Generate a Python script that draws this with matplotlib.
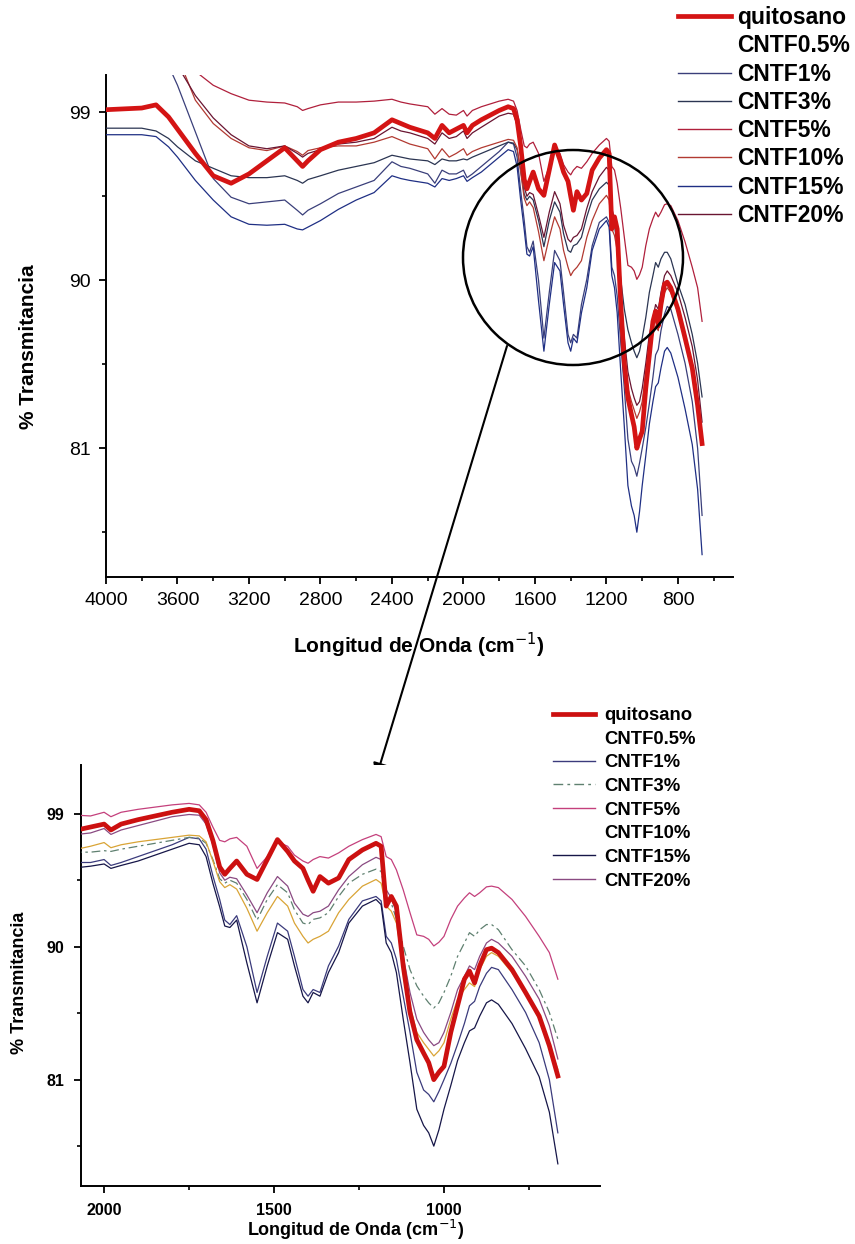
import matplotlib.pyplot as plt
from matplotlib.lines import Line2D
from matplotlib.patches import Ellipse
from matplotlib.ticker import FixedLocator, MultipleLocator

plt.rcParams['font.family'] = ['Liberation Sans', 'DejaVu Sans']

# FTIR spectra (cm-1 vs % transmittance)
wavenumber = [4000, 3800, 3720, 3650, 3600, 3500, 3400, 3300, 3200, 3100,
              3000, 2930, 2900, 2870, 2800, 2700, 2600, 2500, 2400, 2350,
              2300, 2200, 2160, 2120, 2080, 2040, 2000,
              1980, 1950, 1900, 1800, 1750, 1720, 1700, 1680, 1660, 1645,
              1630, 1610, 1580,
              1550, 1520, 1490, 1460, 1440, 1415, 1400, 1385, 1365, 1340,
              1310, 1280, 1240, 1200, 1185, 1170, 1155, 1140, 1120, 1100,
              1080, 1060, 1045, 1030, 1015, 1000, 980, 960, 940, 925,
              910, 895, 875, 860, 840, 800, 760, 720, 690, 665]

quitosano = [99.14, 99.23, 99.4, 98.75, 98.1, 96.8, 95.6, 95.2, 95.7, 96.4,
             97.1, 96.4, 96.1, 96.4, 97.0, 97.4, 97.6, 97.9, 98.6, 98.4,
             98.2, 97.9, 97.6, 98.3, 97.9, 98.1, 98.3,
             97.9, 98.3, 98.6, 99.1, 99.3, 99.2, 98.6, 97.2, 95.4, 94.9,
             95.3, 95.8, 94.9,
             94.55, 95.9, 97.25, 96.45, 95.8, 95.3, 94.5, 93.75, 94.75, 94.3,
             94.65, 95.9, 96.55, 97.0, 96.8, 92.75, 93.4, 92.75, 88.7, 85.55,
             83.7, 82.8, 82.15, 81.0, 81.5, 81.9, 84.2, 86.0, 87.8, 88.35,
             87.55, 88.7, 89.8, 89.9, 89.6, 88.45, 86.9, 85.3, 83.3, 81.25]

cntf1 = [104, 104, 104, 101.5, 100.45, 97.95, 95.45, 94.45, 94.1, 94.2,
         94.3, 93.75, 93.5, 93.75, 94.1, 94.65, 95.0, 95.35, 96.35, 96.1,
         96.0, 95.7, 95.2, 95.9, 95.7, 95.7, 95.9,
         95.5, 95.7, 96.1, 96.9, 97.4, 97.3, 96.6, 94.8, 93.2, 91.8,
         91.5, 92.1, 90.0,
         86.9, 89.35, 91.6, 91.05, 89.35, 87.1, 86.65, 87.1, 86.9, 88.7,
         90.05, 91.85, 93.1, 93.4, 93.1, 90.7, 90.25, 89.15, 86.65, 84.2,
         81.5, 80.3, 80.0, 79.5, 80.2, 81.0, 82.1, 83.4, 84.8, 86.0,
         86.3, 87.3, 88.2, 88.6, 88.45, 87.1, 85.55, 83.5, 81.0, 77.4]

cntf3 = [98.15, 98.15, 98.0, 97.6, 97.15, 96.4, 96.0, 95.6, 95.5, 95.5,
         95.6, 95.35, 95.2, 95.4, 95.6, 95.9, 96.1, 96.3, 96.7, 96.6,
         96.5, 96.4, 96.2, 96.5, 96.4, 96.4, 96.5,
         96.45, 96.6, 96.8, 97.2, 97.4, 97.35, 97.0, 95.9, 94.6, 94.3,
         94.5, 94.3, 93.2,
         91.8, 93.2, 94.2, 93.65, 92.5, 91.6, 91.5, 91.85, 91.95, 92.3,
         93.4, 94.3, 94.9, 95.25, 95.1, 93.4, 92.95, 91.85, 90.05, 88.45,
         87.35, 86.65, 86.2, 85.85, 86.2, 86.9, 88.0, 89.35, 90.25, 90.95,
         90.7, 91.15, 91.5, 91.5, 91.15, 89.8, 88.7, 87.1, 85.55, 83.75]

cntf5 = [104, 104, 104, 104, 103, 101.2, 100.45, 100.0, 99.65, 99.55,
         99.5, 99.3, 99.1, 99.2, 99.4, 99.55, 99.55, 99.6, 99.7, 99.55,
         99.45, 99.3, 98.9, 99.2, 98.9, 98.85, 99.1,
         98.8, 99.1, 99.3, 99.6, 99.7, 99.6, 99.1, 98.1, 97.2, 97.1,
         97.3, 97.4, 96.8,
         95.3, 96.1, 97.1, 96.8, 96.2, 95.8, 95.65, 95.9, 96.1, 96.0,
         96.35, 96.8, 97.25, 97.6, 97.45, 96.1, 95.9, 95.2, 93.85, 92.3,
         90.8, 90.7, 90.5, 90.05, 90.3, 90.7, 91.85, 92.75, 93.3, 93.65,
         93.4, 93.65, 94.05, 94.1, 94.0, 93.2, 92.05, 90.7, 89.6, 87.8]

cntf10 = [104, 104, 104, 103.5, 102, 99.65, 98.4, 97.6, 97.1, 96.95,
          97.2, 96.9, 96.7, 96.95, 97.1, 97.2, 97.2, 97.4, 97.7, 97.5,
          97.3, 97.05, 96.5, 97.05, 96.6, 96.8, 97.05,
          96.7, 96.9, 97.1, 97.4, 97.55, 97.5, 97.1, 95.8, 94.4, 94.0,
          94.2, 93.9, 92.6,
          91.05, 92.3, 93.4, 92.75, 91.6, 90.7, 90.25, 90.5, 90.7, 91.05,
          92.3, 93.2, 94.1, 94.55, 94.3, 92.75, 92.4, 91.6, 88.7, 86.0,
          84.2, 83.5, 83.05, 82.6, 82.95, 83.5, 85.1, 86.45, 87.1, 87.55,
          87.3, 88.45, 89.35, 89.6, 89.35, 88.25, 86.9, 85.1, 83.3, 81.7]

cntf15 = [97.8, 97.8, 97.7, 97.15, 96.6, 95.35, 94.3, 93.4, 93.0, 92.95,
          93.0, 92.75, 92.7, 92.85, 93.2, 93.8, 94.3, 94.7, 95.6, 95.45,
          95.35, 95.2, 95.0, 95.45, 95.35, 95.45, 95.6,
          95.3, 95.5, 95.8, 96.6, 97.0, 96.9, 96.1, 94.3, 92.7, 91.4,
          91.3, 91.8, 88.9,
          86.2, 88.7, 90.95, 90.5, 88.7, 86.65, 86.2, 86.9, 86.65, 88.25,
          89.6, 91.6, 92.75, 93.2, 92.85, 90.25, 89.6, 88.25, 85.1, 82.15,
          79.0, 77.9, 77.4, 76.5, 77.6, 79.0, 80.6, 82.3, 83.5, 84.3,
          84.5, 85.3, 86.2, 86.4, 86.1, 84.8, 83.1, 81.2, 78.8, 75.3]

cntf20 = [104, 104, 104, 103, 101.5, 99.9, 98.7, 97.8, 97.2, 97.05,
          97.2, 96.8, 96.6, 96.8, 97.0, 97.3, 97.4, 97.6, 98.2, 98.0,
          97.9, 97.6, 97.3, 97.9, 97.6, 97.7, 98.0,
          97.6, 97.9, 98.2, 98.8, 98.95, 98.9, 98.3, 96.9, 95.0, 94.5,
          94.7, 94.6, 93.5,
          92.3, 93.65, 94.75, 94.1, 92.95, 92.2, 92.05, 92.3, 92.4, 92.75,
          93.85, 94.75, 95.55, 96.05, 95.9, 93.85, 93.3, 92.3, 89.35, 86.9,
          85.1, 84.2, 83.7, 83.3, 83.5, 84.2, 85.55, 87.1, 88.0, 88.7,
          88.45, 89.35, 90.25, 90.5, 90.25, 89.35, 88.0, 86.45, 84.65, 82.4]

labels = ['quitosano', 'CNTF0.5%', 'CNTF1%', 'CNTF3%', 'CNTF5%',
          'CNTF10%', 'CNTF15%', 'CNTF20%']
spectra = {'quitosano': quitosano, 'CNTF1%': cntf1, 'CNTF3%': cntf3,
           'CNTF5%': cntf5, 'CNTF10%': cntf10, 'CNTF15%': cntf15,
           'CNTF20%': cntf20}

# colours of each panel (None = not drawn / blank legend entry)
top_colors = {'quitosano': '#d41414', 'CNTF0.5%': None, 'CNTF1%': '#3a3f7a',
              'CNTF3%': '#2b3552', 'CNTF5%': '#b0203c', 'CNTF10%': '#b23a32',
              'CNTF15%': '#1f2f84', 'CNTF20%': '#6a1532'}
bot_colors = {'quitosano': '#cc1010', 'CNTF0.5%': None, 'CNTF1%': '#3b3b7c',
              'CNTF3%': '#5f8070', 'CNTF5%': '#c4407c', 'CNTF10%': '#d9a436',
              'CNTF15%': '#161648', 'CNTF20%': '#8a4a82'}
bot_styles = {'CNTF3%': (0, (7, 3, 2, 3))}
bot_blank_legend = ['CNTF0.5%', 'CNTF10%']

W, H = 855, 1244
fig = plt.figure(figsize=(W / 100, H / 100), dpi=100)
axT = fig.add_axes([106 / W, 1 - 577 / H, 627 / W, 502 / H])
axB = fig.add_axes([81 / W, 1 - 1186 / H, 519 / W, 421 / H])


def draw(ax, colors, styles):
    for name in labels:
        c = colors[name]
        if c is None or name not in spectra:
            continue
        if name == 'quitosano':
            ax.plot(wavenumber, spectra[name], color=c, lw=3.4, zorder=5,
                    solid_joinstyle='round')
        else:
            ax.plot(wavenumber, spectra[name], color=c, lw=0.9,
                    ls=styles.get(name, '-'), zorder=3)
    for s in ['top', 'right']:
        ax.spines[s].set_visible(False)
    for s in ['left', 'bottom']:
        ax.spines[s].set_linewidth(1.4)
    ax.yaxis.set_major_locator(FixedLocator([81, 90, 99]))
    ax.yaxis.set_minor_locator(FixedLocator([76.5, 85.5, 94.5]))


# top panel: full spectrum
draw(axT, top_colors, {})
axT.set_xlim(4000, 492)
axT.set_ylim(74.1, 101)
axT.xaxis.set_major_locator(MultipleLocator(400))
axT.xaxis.set_minor_locator(MultipleLocator(200))
axT.tick_params(which='major', direction='out', length=5, width=1.3,
                labelsize=14, pad=6)
axT.tick_params(which='minor', direction='out', length=3, width=1.2)

# bottom panel: zoom of the fingerprint region
draw(axB, bot_colors, bot_styles)
axB.set_xlim(2068, 541)
axB.set_ylim(73.8, 102.3)
axB.xaxis.set_major_locator(MultipleLocator(500))
axB.xaxis.set_minor_locator(MultipleLocator(250))
axB.tick_params(which='major', direction='out', length=5, width=1.3,
                labelsize=11.5, pad=7)
axB.tick_params(which='minor', direction='out', length=3, width=1.2)
plt.setp(axB.get_xticklabels() + axB.get_yticklabels(), fontweight='bold')

# axis titles
fig.text(419 / W, 1 - 645 / H, 'Longitud de Onda (cm$^{-1}$)', ha='center',
         va='center', fontsize=15, fontweight='bold')
fig.text(28 / W, 1 - 347 / H, '% Transmitancia', ha='center', va='center',
         rotation=90, fontsize=15, fontweight='bold')
fig.text(356 / W, 1 - 1230 / H, 'Longitud de Onda (cm$^{-1}$)', ha='center',
         va='center', fontsize=13, fontweight='bold')
fig.text(19 / W, 1 - 983 / H, '% Transmitancia', ha='center', va='center',
         rotation=90, fontsize=13, fontweight='bold')


def legend_handles(colors, blank=(), thick=3.4):
    hs = []
    for name in labels:
        c = colors[name]
        if c is None or name in blank:
            hs.append(Line2D([], [], color='none'))
        else:
            hs.append(Line2D([], [], color=c,
                             lw=thick if name == 'quitosano' else 1.0,
                             ls=bot_styles.get(name, '-') if blank else '-'))
    return hs


fig.legend(legend_handles(top_colors), labels, loc='upper left',
           bbox_to_anchor=(678 / W, 1 - 6 / H), frameon=False,
           prop={'size': 16.5, 'weight': 'bold'}, handlelength=2.3,
           handletextpad=0.3, labelspacing=0.23, borderpad=0, borderaxespad=0)
fig.legend(legend_handles(bot_colors, bot_blank_legend), labels,
           loc='upper left', bbox_to_anchor=(553 / W, 1 - 707 / H),
           frameon=False, prop={'size': 13.3, 'weight': 'bold'},
           handlelength=2.3, handletextpad=0.45, labelspacing=0.36,
           borderpad=0, borderaxespad=0)

# circle marking the zoomed region and the arrow to the lower panel
fig.add_artist(Ellipse((573 / W, 1 - 257.5 / H), 220 / W, 215 / H,
                       transform=fig.transFigure, fill=False, lw=1.8,
                       color='black', zorder=10))
axT.annotate('', xy=(376, H - 778), xytext=(507, H - 346),
             xycoords='figure pixels', textcoords='figure pixels',
             arrowprops=dict(arrowstyle='-|>', lw=1.5, color='black',
                             mutation_scale=22, shrinkA=0, shrinkB=0),
             annotation_clip=False, zorder=10)

fig.savefig('out.png', dpi=100)
